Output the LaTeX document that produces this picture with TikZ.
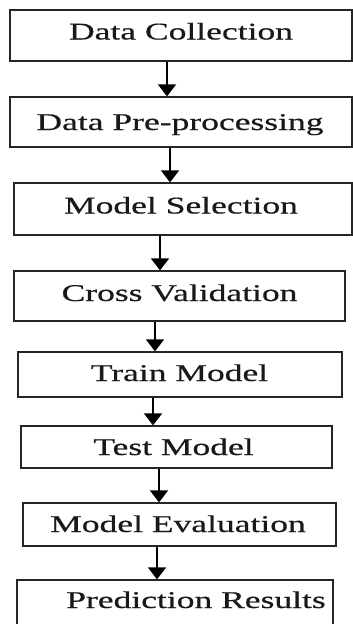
\documentclass[tikz,border=0pt]{standalone}
\usepackage{fontspec}
\setmainfont{Liberation Serif}[FakeBold=0.4]
\usetikzlibrary{arrows.meta}
\tikzset{
  box/.style={draw=black!85, line width=1.2pt, rectangle, inner sep=0pt},
  lbl/.style={anchor=base, inner sep=0pt, font=\fontsize{24}{24}\selectfont, text=black!90},
  arr/.style={draw=black, line width=1.3pt, -{Triangle[width=18pt,length=12pt]}}
}
\newcommand{\wide}[1]{\scalebox{1.48}[1]{#1}}
\begin{document}
\begin{tikzpicture}[x=1pt,y=-1pt]
\clip (0,0) rectangle (353,624);
\fill[white] (0,0) rectangle (353,624);
% boxes
\node[box, minimum width=342pt, minimum height=51pt] (b1) at (181,35.5) {};
\node[box, minimum width=342pt, minimum height=50pt] (b2) at (181,122) {};
\node[box, minimum width=338pt, minimum height=52pt] (b3) at (183,209) {};
\node[box, minimum width=331pt, minimum height=50pt] (b4) at (179.5,296) {};
\node[box, minimum width=324pt, minimum height=45pt] (b5) at (180,374.5) {};
\node[box, minimum width=311pt, minimum height=42pt] (b6) at (176.5,447) {};
\node[box, minimum width=313pt, minimum height=43pt] (b7) at (179.5,524.5) {};
\node[box, minimum width=316pt, minimum height=80pt] (b8) at (175,620) {};
% labels
\node[lbl] (t1) at (181,39.5) {\wide{Data Collection}};
\node[lbl] (t2) at (180,130) {\wide{Data Pre-processing}};
\node[lbl] (t3) at (181,213.5) {\wide{Model Selection}};
\node[lbl] (t4) at (179.5,301) {\wide{Cross Validation}};
\node[lbl] (t5) at (179.5,381) {\wide{Train Model}};
\node[lbl] (t6) at (173.5,455) {\wide{Test Model}};
\node[lbl] (t7) at (178,532) {\wide{Model Evaluation}};
\node[lbl] (t8) at (196,608) {\wide{Prediction Results}};
% arrow columns
\coordinate (c1) at (167,0);
\coordinate (c2) at (170,0);
\coordinate (c3) at (160,0);
\coordinate (c4) at (155,0);
\coordinate (c5) at (153,0);
\coordinate (c6) at (159,0);
\coordinate (c7) at (157,0);
\draw[arr] (b1.south -| c1) -- (b2.north -| c1);
\draw[arr] (b2.south -| c2) -- (b3.north -| c2);
\draw[arr] (b3.south -| c3) -- (b4.north -| c3);
\draw[arr] (b4.south -| c4) -- (b5.north -| c4);
\draw[arr] (b5.south -| c5) -- (b6.north -| c5);
\draw[arr] (b6.south -| c6) -- (b7.north -| c6);
\draw[arr] (b7.south -| c7) -- (b8.north -| c7);
\end{tikzpicture}
\end{document}
